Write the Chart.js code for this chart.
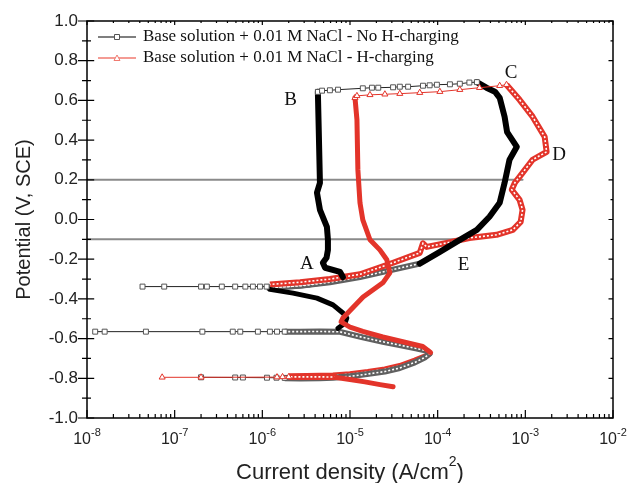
<!DOCTYPE html>
<html>
<head>
<meta charset="UTF-8">
<title>Polarization curves</title>
<script src="https://cdn.jsdelivr.net/npm/chart.js@4.4.0/dist/chart.umd.min.js"></script>
<style>body{margin:0;background:#fff}</style>
</head>
<body>
<canvas id="myChart" width="630" height="483"></canvas>
<script>
// ---- No H-charging (black squares) ----
var bkTail1_i = [2.0e-7, 4.9e-7, 6.0e-7, 1.13e-6, 1.45e-6, 1.8e-6]
var bkTail1_E = [-0.795, -0.796, -0.796, -0.797, -0.797, -0.798]
var bkLoop_i = [1.8e-6, 2.7e-6, 4.5e-6, 6.4e-6, 1.0e-5, 1.56e-5, 2.5e-5, 3.7e-5, 5.5e-5, 7.2e-5, 8.1e-5, 7.6e-5, 5.8e-5, 3.8e-5, 2.37e-5, 1.4e-5, 7.7e-6, 4.5e-6, 2.7e-6, 1.8e-6]
var bkLoop_E = [-0.800, -0.801, -0.800, -0.797, -0.790, -0.779, -0.766, -0.748, -0.720, -0.694, -0.676, -0.662, -0.650, -0.634, -0.616, -0.594, -0.566, -0.564, -0.565, -0.565]
var bkTail2_i = [1.8e-6, 1.47e-6, 1.22e-6, 8.9e-7, 5.6e-7, 4.6e-7, 2.07e-7, 4.7e-8, 1.59e-8, 1.24e-8]
var bkTail2_E = [-0.565, -0.565, -0.565, -0.565, -0.565, -0.565, -0.565, -0.565, -0.565, -0.565]
var bkS_i = [7.3e-6, 8.75e-6, 9.2e-6, 8.3e-6, 6.4e-6, 4.2e-6, 2.24e-6, 1.22e-6]
var bkS_E = [-0.548, -0.523, -0.496, -0.471, -0.430, -0.396, -0.371, -0.352]
var bkTail3_i = [1.12e-6, 9.4e-7, 7.8e-7, 6.4e-7, 4.9e-7, 3.45e-7, 2.33e-7, 2.0e-7, 7.6e-8, 4.3e-8]
var bkTail3_E = [-0.338, -0.338, -0.338, -0.338, -0.338, -0.338, -0.338, -0.338, -0.338, -0.338]
var bkRise_i = [1.12e-6, 2.0e-6, 3.5e-6, 5.9e-6, 8.3e-6]
var bkRise_E = [-0.343, -0.338, -0.327, -0.311, -0.294]
var bkPassive_i = [8.3e-6, 7.7e-6, 5.2e-6, 4.9e-6, 5.4e-6, 5.6e-6, 5.6e-6, 5.45e-6, 4.54e-6, 4.2e-6, 4.54e-6, 4.4e-6, 4.3e-6]
var bkPassive_E = [-0.290, -0.264, -0.243, -0.218, -0.193, -0.153, -0.102, -0.037, 0.049, 0.135, 0.185, 0.452, 0.643]
var bkTop_i = [4.3e-6, 4.8e-6, 5.9e-6, 7.3e-6, 1.4e-5, 1.78e-5, 2.1e-5, 3.1e-5, 3.7e-5, 4.6e-5, 6.8e-5, 8.1e-5, 9.8e-5, 1.38e-4, 1.79e-4, 2.3e-4, 2.8e-4]
var bkTop_E = [0.643, 0.649, 0.651, 0.654, 0.661, 0.664, 0.664, 0.666, 0.669, 0.669, 0.674, 0.676, 0.679, 0.681, 0.684, 0.690, 0.692]
var bkReturn_i = [2.8e-4, 3.6e-4, 4.5e-4, 5.1e-4, 5.8e-4, 6.2e-4, 8.0e-4, 6.6e-4, 5.8e-4, 5.1e-4, 3.9e-4, 2.8e-4, 1.79e-4, 1.06e-4, 6.25e-5]
var bkReturn_E = [0.692, 0.664, 0.644, 0.613, 0.518, 0.440, 0.366, 0.301, 0.185, 0.084, 0.014, -0.052, -0.103, -0.163, -0.222]
var bkBand_i = [6.25e-5, 2.84e-5, 1.3e-5, 5.9e-6, 2.7e-6, 1.22e-6]
var bkBand_E = [-0.222, -0.256, -0.290, -0.316, -0.334, -0.343]

// ---- H-charging (red triangles) ----
var rdStart_i = [3.1e-5, 2.2e-5, 1.48e-5, 1.0e-5, 7.0e-6]
var rdStart_E = [-0.843, -0.832, -0.818, -0.806, -0.796]
var rdTailBand_i = [7.0e-6, 5.0e-6, 3.2e-6, 2.0e-6]
var rdTailBand_E = [-0.794, -0.793, -0.793, -0.793]
var rdTail_i = [2.0e-6, 1.7e-6, 1.47e-6, 2.0e-7, 7.2e-8]
var rdTail_E = [-0.793, -0.793, -0.794, -0.795, -0.795]
var rdArm_i = [2.0e-6, 3.2e-6, 6.4e-6, 1.0e-5, 1.6e-5, 2.5e-5, 3.7e-5, 5.5e-5, 7.5e-5, 8.3e-5]
var rdArm_E = [-0.790, -0.789, -0.786, -0.779, -0.768, -0.755, -0.738, -0.711, -0.686, -0.670]
var rdThick_i = [8.3e-5, 6.76e-5, 4.0e-5, 2.37e-5, 1.4e-5, 1.0e-5, 7.9e-6, 8.3e-6, 1.41e-5, 2.37e-5, 2.85e-5, 2.63e-5, 2.19e-5, 1.69e-5, 1.4e-5, 1.3e-5, 1.23e-5, 1.2e-5, 1.14e-5]
var rdThick_E = [-0.670, -0.640, -0.616, -0.592, -0.564, -0.542, -0.516, -0.496, -0.390, -0.319, -0.269, -0.203, -0.153, -0.102, -0.002, 0.084, 0.250, 0.503, 0.613]
var rdTop_i = [1.14e-5, 1.2e-5, 1.69e-5, 2.5e-5, 3.7e-5, 6.25e-5, 1.06e-4, 1.79e-4, 3.0e-4, 5.1e-4, 6.1e-4]
var rdTop_E = [0.613, 0.623, 0.628, 0.631, 0.634, 0.639, 0.644, 0.654, 0.664, 0.674, 0.679]
var rdLoop_i = [6.1e-4, 8.6e-4, 1.21e-3, 1.66e-3, 1.75e-3, 1.21e-3, 9.3e-4, 7.6e-4, 7.0e-4, 8.6e-4, 9.3e-4, 8.85e-4, 7.2e-4, 4.7e-4, 2.3e-4, 1.27e-4, 7.5e-5, 6.8e-5, 6.25e-5, 3.1e-5, 1.3e-5, 5.9e-6, 2.7e-6, 1.22e-6]
var rdLoop_E = [0.679, 0.603, 0.518, 0.417, 0.341, 0.301, 0.235, 0.185, 0.150, 0.099, 0.049, -0.012, -0.052, -0.077, -0.093, -0.118, -0.138, -0.120, -0.168, -0.218, -0.276, -0.300, -0.316, -0.327]

// ---- reference lines, ticks, labels ----
var hline1_i = [1.0e-8, 9.3e-4], hline1_E = [0.2, 0.2]
var hline2_i = [1.0e-8, 2.0e-4], hline2_E = [-0.1, -0.1]
var xTickExp = [-8, -7, -6, -5, -4, -3, -2]
var yTicks = [-1.0, -0.8, -0.6, -0.4, -0.2, 0.0, 0.2, 0.4, 0.6, 0.8, 1.0]
var seriesNames = ['Base solution + 0.01 M NaCl - No H-charging', 'Base solution + 0.01 M NaCl - H-charging']
var pointLabels = ['A', 'B', 'C', 'D', 'E']
var pointLabel_i = [3.23e-6, 2.1e-6, 6.9e-4, 2.43e-3, 1.98e-4]
var pointLabel_E = [-0.226, 0.601, 0.737, 0.324, -0.228]

var RED = '#e3342a'
var GRAYBAND = '#606060'

function pts(xs, ys) { return xs.map(function (v, k) { return {x: v, y: ys[k]} }) }

function solid(xs, ys, color, width, order) {
    return {data: pts(xs, ys), showLine: true, borderColor: color, borderWidth: width, pointRadius: 0, order: order, borderJoinStyle: 'round', borderCapStyle: 'round'}
}
function band(xs, ys, color, inner, order) {
    return [
        {data: pts(xs, ys), showLine: true, borderColor: color, borderWidth: 6, pointRadius: 0, order: order, borderJoinStyle: 'round'},
        {data: pts(xs, ys), showLine: true, borderColor: inner, borderWidth: 1.6, borderDash: [2, 2], pointRadius: 0, order: order - 0.5}
    ]
}
function marks(xs, ys, line, edge, style, order) {
    return {data: pts(xs, ys), showLine: true, borderColor: line, borderWidth: 1, pointStyle: style,
        pointRadius: 3.5, pointBackgroundColor: '#fff', pointBorderColor: edge, pointBorderWidth: 1, order: order}
}

var datasets = [].concat(
    solid(hline1_i, hline1_E, '#8a8a8a', 2, 20),
    solid(hline2_i, hline2_E, '#8a8a8a', 2, 20),
    band(bkRise_i, bkRise_E, GRAYBAND, '#fff', 12),
    band(bkBand_i, bkBand_E, GRAYBAND, '#fff', 12),
    band(rdArm_i, rdArm_E, RED, '#fff', 11),
    band(rdLoop_i, rdLoop_E, RED, '#fff', 11),
    band(bkLoop_i, bkLoop_E, GRAYBAND, '#fff', 10),
    band(rdTailBand_i, rdTailBand_E, RED, '#fff', 9),
    solid(bkS_i, bkS_E, '#000', 5, 8),
    solid(bkPassive_i, bkPassive_E, '#000', 6, 8),
    solid(bkReturn_i, bkReturn_E, '#000', 6, 8),
    solid(rdStart_i, rdStart_E, RED, 5, 6),
    solid(rdThick_i, rdThick_E, RED, 5, 6),
    marks(bkTail1_i, bkTail1_E, '#222', '#555', 'rect', 4),
    marks(bkTail2_i, bkTail2_E, '#222', '#555', 'rect', 4),
    marks(bkTail3_i, bkTail3_E, '#222', '#555', 'rect', 4),
    marks(bkTop_i, bkTop_E, '#222', '#555', 'rect', 4),
    marks(rdTail_i, rdTail_E, RED, RED, 'triangle', 3),
    marks(rdTop_i, rdTop_E, RED, RED, 'triangle', 3)
)

var decor = {
    id: 'decor',
    afterDraw: function (chart) {
        var ctx = chart.ctx, a = chart.chartArea, x = chart.scales.x, y = chart.scales.y
        ctx.save()
        ctx.strokeStyle = '#000'
        ctx.lineWidth = 1.5
        ctx.strokeRect(a.left, a.top, a.right - a.left, a.bottom - a.top)
        ctx.lineWidth = 1.2
        ctx.beginPath()
        for (var d = -8; d <= -2; d++) {
            for (var m = 1; m <= 9; m++) {
                if (d == -2 && m > 1) break
                var px = x.getPixelForValue(m * Math.pow(10, d))
                var len = m == 1 ? 8 : 4
                ctx.moveTo(px, a.bottom); ctx.lineTo(px, a.bottom - len)
                ctx.moveTo(px, a.top); ctx.lineTo(px, a.top + len / 2)
            }
        }
        for (var k = -10; k <= 10; k++) {
            var py = y.getPixelForValue(k / 10)
            var ln = k % 2 == 0 ? 9 : 5
            ctx.moveTo(a.left - ln, py); ctx.lineTo(a.left + ln * 0.8, py)
            ctx.moveTo(a.right, py); ctx.lineTo(a.right - ln / 2, py)
        }
        ctx.stroke()

        // y tick labels
        ctx.fillStyle = '#222'
        ctx.font = '17px "Liberation Sans", Arial, sans-serif'
        ctx.textAlign = 'right'
        ctx.textBaseline = 'middle'
        yTicks.forEach(function (v) { ctx.fillText(v.toFixed(1), a.left - 9, y.getPixelForValue(v)) })

        // x tick labels 10^n
        xTickExp.forEach(function (e) {
            var px = x.getPixelForValue(Math.pow(10, e))
            ctx.font = '16px "Liberation Sans", Arial, sans-serif'
            var w1 = ctx.measureText('10').width
            ctx.font = '11px "Liberation Sans", Arial, sans-serif'
            var w2 = ctx.measureText(String(e)).width
            var x0 = px - (w1 + w2) / 2
            ctx.textAlign = 'left'
            ctx.textBaseline = 'alphabetic'
            ctx.font = '16px "Liberation Sans", Arial, sans-serif'
            ctx.fillText('10', x0, a.bottom + 26)
            ctx.font = '11px "Liberation Sans", Arial, sans-serif'
            ctx.fillText(String(e), x0 + w1, a.bottom + 18)
        })

        // axis titles
        ctx.font = '22px "Liberation Sans", Arial, sans-serif'
        var t1 = 'Current density (A/cm', t2 = ')'
        var wa = ctx.measureText(t1).width, wc = ctx.measureText(t2).width
        ctx.font = '14px "Liberation Sans", Arial, sans-serif'
        var wb = ctx.measureText('2').width
        var cx = (a.left + a.right) / 2 - (wa + wb + wc) / 2
        ctx.textAlign = 'left'
        ctx.font = '22px "Liberation Sans", Arial, sans-serif'
        ctx.fillText(t1, cx, a.bottom + 61)
        ctx.fillText(t2, cx + wa + wb, a.bottom + 61)
        ctx.font = '14px "Liberation Sans", Arial, sans-serif'
        ctx.fillText('2', cx + wa, a.bottom + 48)

        ctx.save()
        ctx.translate(24, (a.top + a.bottom) / 2)
        ctx.rotate(-Math.PI / 2)
        ctx.textAlign = 'center'
        ctx.textBaseline = 'middle'
        ctx.font = '20px "Liberation Sans", Arial, sans-serif'
        ctx.fillText('Potential (V, SCE)', 0, 0)
        ctx.restore()

        // curve labels
        ctx.fillStyle = '#111'
        ctx.font = '19px "Liberation Serif", "Times New Roman", serif'
        ctx.textAlign = 'center'
        ctx.textBaseline = 'middle'
        pointLabels.forEach(function (s, k) {
            ctx.fillText(s, x.getPixelForValue(pointLabel_i[k]), y.getPixelForValue(pointLabel_E[k]))
        })

        // legend
        var styles = [{line: '#555', edge: '#555'}, {line: '#f07a70', edge: '#f07a70'}]
        ctx.font = '17px "Liberation Serif", "Times New Roman", serif'
        ctx.textAlign = 'left'
        seriesNames.forEach(function (name, k) {
            var ly = a.top + 16 + k * 21
            var lx = a.left + 11
            ctx.strokeStyle = styles[k].line
            ctx.lineWidth = 1.5
            ctx.beginPath(); ctx.moveTo(lx, ly); ctx.lineTo(lx + 38, ly); ctx.stroke()
            ctx.fillStyle = '#fff'
            ctx.strokeStyle = styles[k].edge
            ctx.lineWidth = 1
            ctx.beginPath()
            if (k == 0) { ctx.rect(lx + 16.5, ly - 2.5, 5, 5) } else { ctx.moveTo(lx + 19, ly - 3); ctx.lineTo(lx + 22, ly + 2.5); ctx.lineTo(lx + 16, ly + 2.5); ctx.closePath() }
            ctx.fill(); ctx.stroke()
            ctx.fillStyle = '#111'
            ctx.fillText(name, lx + 45, ly)
        })
        ctx.restore()
    }
}

var ctx = document.getElementById('myChart').getContext('2d')
var chart = new Chart(ctx, {
    type: 'scatter',
    data: {datasets: datasets},
    options: {
        responsive: false,
        animation: false,
        layout: {padding: {left: 87, right: 17, top: 21, bottom: 65}},
        plugins: {legend: {display: false}, tooltip: {enabled: false}},
        elements: {line: {tension: 0}},
        scales: {
            x: {type: 'logarithmic', min: 1e-8, max: 1e-2, display: false},
            y: {type: 'linear', min: -1, max: 1, display: false}
        }
    },
    plugins: [decor]
})
</script>
</body>
</html>
